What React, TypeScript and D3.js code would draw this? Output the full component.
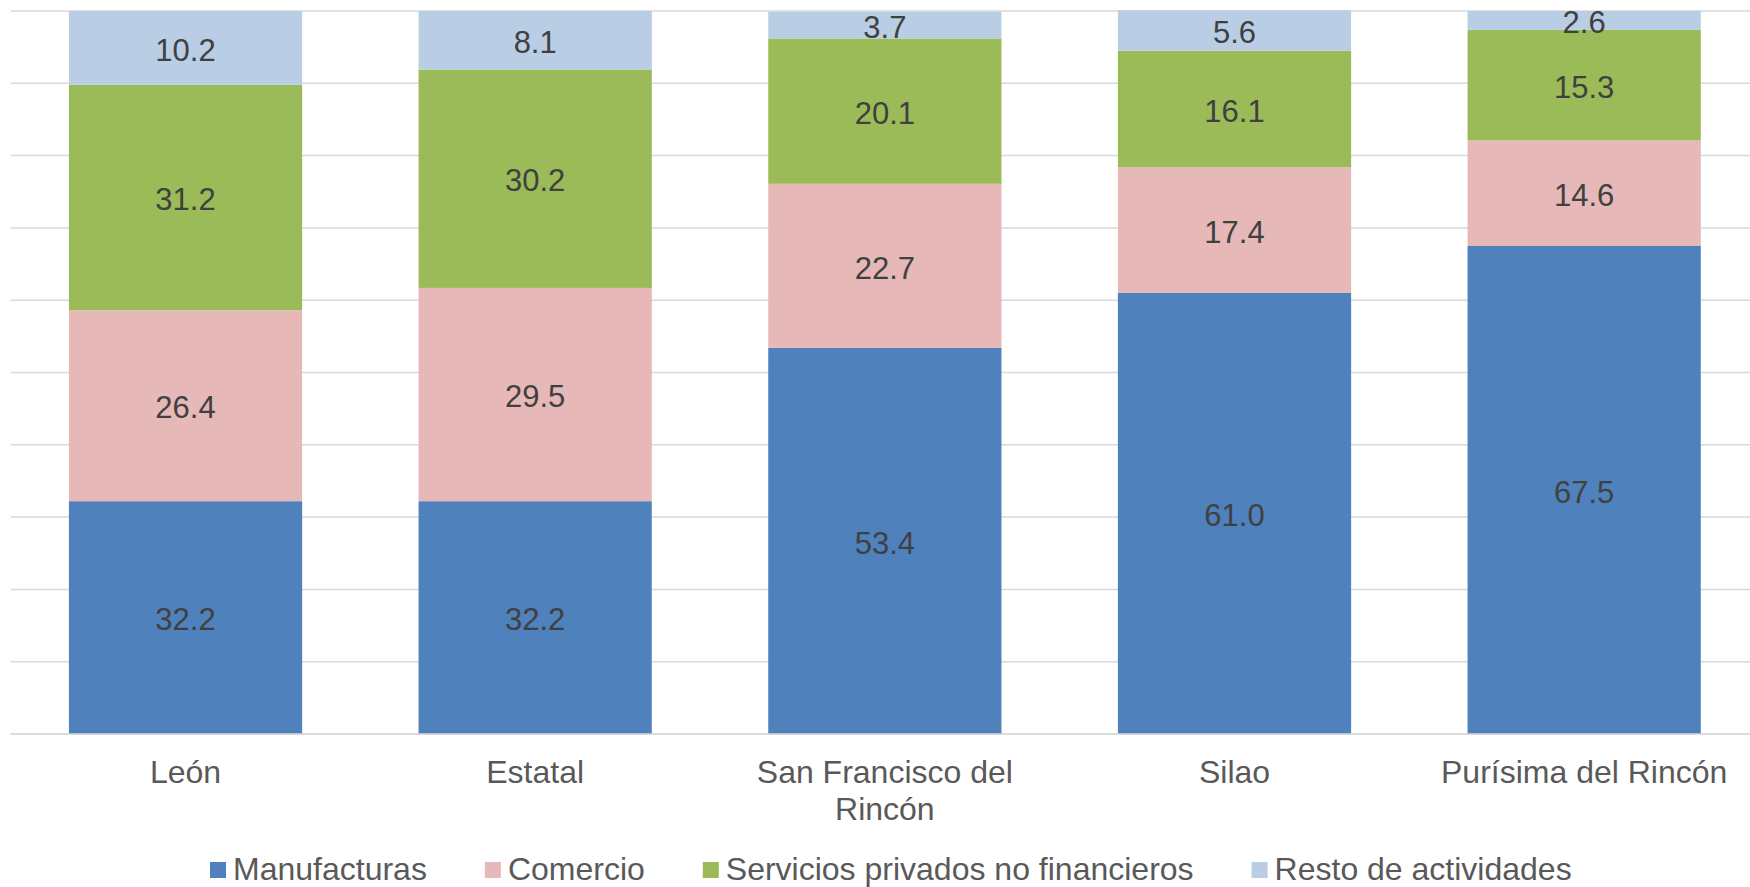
import React from "react";
import * as d3 from "d3";

const categories = ["León", "Estatal", "San Francisco del Rincón", "Silao", "Purísima del Rincón"];
const seriesNames = ["Manufacturas", "Comercio", "Servicios privados no financieros", "Resto de actividades"];
const manufacturas = [32.2, 32.2, 53.4, 61.0, 67.5];
const comercio = [26.4, 29.5, 22.7, 17.4, 14.6];
const servicios = [31.2, 30.2, 20.1, 16.1, 15.3];
const resto = [10.2, 8.1, 3.7, 5.6, 2.6];
const yTicks = [0, 10, 20, 30, 40, 50, 60, 70, 80, 90, 100];
const colors = ["#4f81bd", "#e6b9b8", "#9bbb59", "#b9cde5"];

const W = 1750;
const H = 887;
const FONT = "'Liberation Sans', Arial, sans-serif";

function measure(text: string, size: number): number {
  const c = document.createElement("canvas").getContext("2d");
  if (!c) return text.length * size * 0.5;
  c.font = `${size}px ${FONT}`;
  return c.measureText(text).width;
}

function wrap(text: string, size: number, maxW: number): string[] {
  const words = text.split(" ");
  const lines: string[] = [];
  let cur = "";
  for (const w of words) {
    const t = cur ? cur + " " + w : w;
    if (cur && measure(t, size) > maxW) {
      lines.push(cur);
      cur = w;
    } else cur = t;
  }
  if (cur) lines.push(cur);
  return lines;
}

export default function App() {
  const allSeries = [manufacturas, comercio, servicios, resto];
  const x = d3.scaleBand<string>().domain(categories).range([10.7, 1759]).paddingInner(0.333).paddingOuter(0.1665);
  const y = d3.scaleLinear().domain([0, 100]).range([734, 11]);
  const rows = categories.map((c, i) => {
    const r: any = { cat: c };
    seriesNames.forEach((s, j) => (r[s] = allSeries[j][i]));
    return r;
  });
  const stacked = d3.stack<any>().keys(seriesNames)(rows);

  const legendSize = 32;
  let lx = 210;
  const legendItems = seriesNames.map((s, i) => {
    const item = { name: s, x: lx, color: colors[i] };
    lx += 17 + 6 + measure(s, legendSize) + 58;
    return item;
  });

  return (
    <svg width={W} height={H} style={{ position: "fixed", left: 0, top: 0, background: "#fff" }} fontFamily={FONT}>
      <rect width={W} height={H} fill="#fff" />
      {yTicks.map((t) => (
        <line key={t} x1={10.7} x2={W} y1={y(t)} y2={y(t)} stroke="#d9d9d9" strokeWidth={1.5} />
      ))}
      {stacked.map((layer, j) => (
        <g key={layer.key}>
          {layer.map((d, i) => (
            <rect
              key={i}
              x={x(categories[i])}
              width={x.bandwidth()}
              y={y(d[1])}
              height={y(d[0]) - y(d[1])}
              fill={colors[j]}
            />
          ))}
        </g>
      ))}
      {stacked.map((layer, j) => (
        <g key={"l" + layer.key}>
          {layer.map((d, i) => (
            <text
              key={i}
              x={(x(categories[i]) as number) + x.bandwidth() / 2}
              y={(y(d[0]) + y(d[1])) / 2}
              dy="0.41em"
              textAnchor="middle"
              fontSize={31}
              fill="#404040"
            >
              {allSeries[j][i].toFixed(1)}
            </text>
          ))}
        </g>
      ))}
      <line x1={10.7} x2={W} y1={y(0)} y2={y(0)} stroke="#d9d9d9" strokeWidth={1.5} />
      {categories.map((c) => {
        const lines = wrap(c, 32, x.step());
        return (
          <text key={c} x={(x(c) as number) + x.bandwidth() / 2} y={783} textAnchor="middle" fontSize={32} fill="#595959">
            {lines.map((l, k) => (
              <tspan key={k} x={(x(c) as number) + x.bandwidth() / 2} dy={k === 0 ? 0 : 37}>
                {l}
              </tspan>
            ))}
          </text>
        );
      })}
      {legendItems.map((it) => (
        <g key={it.name}>
          <rect x={it.x} y={862} width={16} height={16} fill={it.color} />
          <text x={it.x + 23} y={880} fontSize={legendSize} fill="#595959">
            {it.name}
          </text>
        </g>
      ))}
    </svg>
  );
}
